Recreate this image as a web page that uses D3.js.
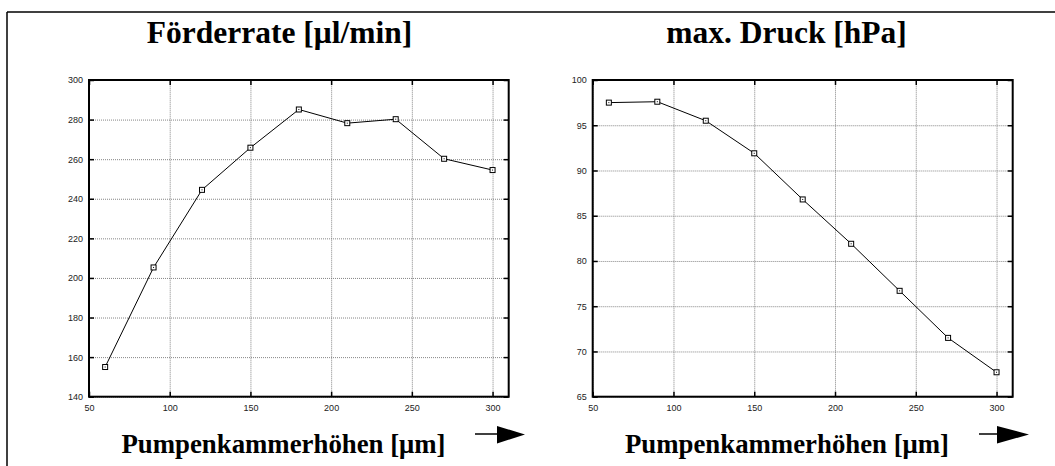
<!DOCTYPE html>
<html>
<head>
<meta charset="utf-8">
<script src="https://cdn.jsdelivr.net/npm/d3@7"></script>
<style>
  html, body { margin: 0; padding: 0; background: #fff; }
  svg { display: block; }
</style>
</head>
<body>
<svg id="chart" width="1055" height="466"></svg>
<script>
// ---- data ----
const pumpHeights = [60, 90, 120, 150, 180, 210, 240, 270, 300];
const foerderrate = [155, 205.3, 244.5, 265.8, 285.1, 278.2, 280.2, 260.2, 254.5];
const maxDruck = [97.5, 97.6, 95.5, 91.9, 86.8, 81.9, 76.7, 71.5, 67.7];
const xTickValues = [50, 100, 150, 200, 250, 300];
const yTicksFoerderrate = [140, 160, 180, 200, 220, 240, 260, 280, 300];
const yTicksDruck = [65, 70, 75, 80, 85, 90, 95, 100];
const titles = ["Förderrate [μl/min]", "max. Druck [hPa]"];
const xAxisLabel = "Pumpenkammerhöhen [μm]";

(function () {
const svg = d3.select("#chart");
svg.append("rect").attr("width", 1055).attr("height", 466).attr("fill", "#fff");

// outer frame (top and left visible)
svg.append("line").attr("x1", 7).attr("x2", 1055).attr("y1", 12).attr("y2", 12)
  .attr("stroke", "#000").attr("stroke-width", 1.5);
svg.append("line").attr("x1", 7).attr("x2", 7).attr("y1", 12).attr("y2", 466)
  .attr("stroke", "#000").attr("stroke-width", 1.5);

const panels = [
  { left: 89, right: 508.7, title: titles[0], titleX: 279.5, values: foerderrate,
    yDomain: [140, 300], yTicks: yTicksFoerderrate, labelX: 283.5, arrowX0: 475, arrowBase: 497, arrowTip: 525 },
  { left: 592.7, right: 1012.7, title: titles[1], titleX: 786.5, values: maxDruck,
    yDomain: [65, 100], yTicks: yTicksDruck, labelX: 787, arrowX0: 979, arrowBase: 997, arrowTip: 1029 }
];
const plotTop = 80, plotBottom = 396.7;

panels.forEach(p => {
  const x = d3.scaleLinear().domain([50, 310]).range([p.left, p.right]);
  const y = d3.scaleLinear().domain(p.yDomain).range([plotBottom, plotTop]);
  const w = p.right - p.left, h = plotBottom - plotTop;
  const g = svg.append("g");

  // grid
  const gx = g.append("g").attr("transform", `translate(0,${plotBottom})`)
    .call(d3.axisBottom(x).tickValues(xTickValues).tickSize(-h).tickFormat(""));
  const gy = g.append("g").attr("transform", `translate(${p.left},0)`)
    .call(d3.axisLeft(y).tickValues(p.yTicks).tickSize(-w).tickFormat(""));
  [gx, gy].forEach(a => {
    a.select(".domain").remove();
    a.selectAll("line").attr("stroke", "#777").attr("stroke-width", 0.9).attr("stroke-dasharray", "1,1");
  });

  // tick labels
  const lx = g.append("g").attr("transform", `translate(0,${plotBottom})`)
    .call(d3.axisBottom(x).tickValues(xTickValues).tickSize(0).tickPadding(8));
  const ly = g.append("g").attr("transform", `translate(${p.left},0)`)
    .call(d3.axisLeft(y).tickValues(p.yTicks).tickSize(0).tickPadding(6));
  [lx, ly].forEach(a => {
    a.select(".domain").remove();
    a.selectAll("text").attr("font-family", "Liberation Sans, Arial, sans-serif")
      .attr("font-size", 9).attr("fill", "#222");
  });

  // inward ticks on four sides
  const tickSides = [
    g.append("g").attr("transform", `translate(0,${plotBottom})`).call(d3.axisBottom(x).tickValues(xTickValues).tickSize(-5).tickFormat("")),
    g.append("g").attr("transform", `translate(0,${plotTop})`).call(d3.axisTop(x).tickValues(xTickValues).tickSize(-5).tickFormat("")),
    g.append("g").attr("transform", `translate(${p.left},0)`).call(d3.axisLeft(y).tickValues(p.yTicks).tickSize(-5).tickFormat("")),
    g.append("g").attr("transform", `translate(${p.right},0)`).call(d3.axisRight(y).tickValues(p.yTicks).tickSize(-5).tickFormat(""))
  ];
  tickSides.forEach(a => {
    a.select(".domain").remove();
    a.selectAll("line").attr("stroke", "#000").attr("stroke-width", 1.5);
  });

  // frame
  g.append("rect").attr("x", p.left).attr("y", plotTop).attr("width", w).attr("height", h)
    .attr("fill", "none").attr("stroke", "#000").attr("stroke-width", 2);

  // line
  const pts = pumpHeights.map((d, i) => [d, p.values[i]]);
  g.append("path").datum(pts)
    .attr("d", d3.line().x(d => x(d[0])).y(d => y(d[1])))
    .attr("fill", "none").attr("stroke", "#000").attr("stroke-width", 1);

  // markers
  const m = g.selectAll(".mk").data(pts).enter().append("g")
    .attr("transform", d => `translate(${x(d[0])},${y(d[1])})`);
  m.append("rect").attr("x", -2.5).attr("y", -2.5).attr("width", 5).attr("height", 5)
    .attr("fill", "#fff").attr("stroke", "#000").attr("stroke-width", 1);
  m.append("rect").attr("x", -0.5).attr("y", -0.5).attr("width", 1).attr("height", 1).attr("fill", "#000");

  // title
  svg.append("text").attr("x", p.titleX).attr("y", 43).attr("text-anchor", "middle")
    .attr("font-family", "Liberation Serif, Times New Roman, serif").attr("font-weight", "bold")
    .attr("font-size", 31.5).text(p.title);

  // x axis label
  svg.append("text").attr("x", p.labelX).attr("y", 453).attr("text-anchor", "middle")
    .attr("font-family", "Liberation Serif, Times New Roman, serif").attr("font-weight", "bold")
    .attr("font-size", 26.8).text(xAxisLabel);

  // arrow
  svg.append("line").attr("x1", p.arrowX0).attr("x2", p.arrowBase + 2).attr("y1", 434).attr("y2", 434)
    .attr("stroke", "#000").attr("stroke-width", 1.5);
  svg.append("path")
    .attr("d", `M${p.arrowBase},426 L${p.arrowTip},434.5 L${p.arrowBase},443.5 Z`)
    .attr("fill", "#000");
});
})();
</script>
</body>
</html>
